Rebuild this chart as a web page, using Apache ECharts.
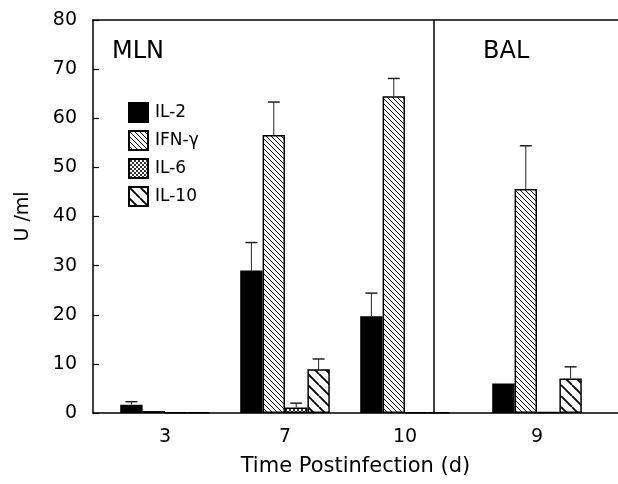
<!DOCTYPE html>
<html>
<head>
<meta charset="utf-8">
<script src="https://cdn.jsdelivr.net/npm/echarts@6/dist/echarts.min.js"></script>
<style>
  html, body { margin: 0; padding: 0; background: #fff; }
  #chart { width: 618px; height: 484px; }
</style>
</head>
<body>
<div id="chart"></div>
<script>
// group positions on the x axis (one unit = distance between MLN groups)
const groupPos = [0.6, 1.6, 2.6, 3.7]
const groupLabels = ['3', '7', '10', '9']
const separatorPos = 3.117

// U/ml: MLN d3, d7, d10, BAL d9
const il2 = [1.7, 29.0, 19.7, 6.0]
const il2Err = [2.3, 34.7, 24.4, 6.0]
const ifn = [0.4, 56.6, 64.5, 45.6]
const ifnErr = [0.4, 63.3, 68.1, 54.4]
const il6 = [0.1, 1.1, 0.1, 0.2]
const il6Err = [0.1, 2.0, 0.1, 0.2]
const il10 = [0.1, 8.9, 0.1, 7.0]
const il10Err = [0.1, 11.0, 0.1, 9.4]

const FONT = 'DejaVu Sans'
const BAR_W = 22.4

// 斜线填充图案
function hatch (size, lineWidth, cross) {
  const c = document.createElement('canvas')
  c.width = size
  c.height = size
  const ctx = c.getContext('2d')
  ctx.fillStyle = '#fff'
  ctx.fillRect(0, 0, size, size)
  ctx.strokeStyle = '#000'
  ctx.lineWidth = lineWidth
  ctx.beginPath()
  for (let o = -size; o <= size; o += size) {
    ctx.moveTo(o, 0)
    ctx.lineTo(o + size, size)
    if (cross) {
      ctx.moveTo(o + size, 0)
      ctx.lineTo(o, size)
    }
  }
  ctx.stroke()
  return { image: c, repeat: 'repeat' }
}

const names = ['IL-2', 'IFN-γ', 'IL-6', 'IL-10']
const values = [il2, ifn, il6, il10]
const errs = [il2Err, ifnErr, il6Err, il10Err]
const fills = ['#000', hatch(5, 1, false), hatch(4, 0.8, true), hatch(11, 1.8, false)]

const barSeries = names.map((name, k) => {
  const s = {
    name: name,
    type: 'bar',
    barWidth: BAR_W,
    barGap: '0%',
    data: values[k].map((v, i) => [groupPos[i], v]),
    itemStyle: { color: fills[k], borderColor: '#000', borderWidth: 1.5 },
    emphasis: { disabled: true }
  }
  if (k === 0) {
    s.markLine = {
      silent: true,
      symbol: 'none',
      label: { show: false },
      lineStyle: { color: '#000', width: 1.5, type: 'solid' },
      data: [{ xAxis: separatorPos }]
    }
  }
  return s
})

// error bars, only where visible
const errData = []
values.forEach((arr, k) => {
  arr.forEach((v, i) => {
    if (errs[k][i] > v) errData.push([groupPos[i], v, errs[k][i], k])
  })
})

const errSeries = {
  type: 'custom',
  z: 5,
  silent: true,
  data: errData,
  renderItem (params, api) {
    const off = (api.value(3) - 1.5) * BAR_W
    const top = api.coord([api.value(0), api.value(2)])
    const base = api.coord([api.value(0), api.value(1)])
    const x = top[0] + off
    return {
      type: 'group',
      children: [
        { type: 'line', shape: { x1: x, y1: base[1], x2: x, y2: top[1] }, style: { stroke: '#222', lineWidth: 1 } },
        { type: 'line', shape: { x1: x - 6, y1: top[1], x2: x + 6, y2: top[1] }, style: { stroke: '#222', lineWidth: 1.5 } }
      ]
    }
  }
}

const chart = echarts.init(document.getElementById('chart'))
chart.setOption({
  animation: false,
  textStyle: { fontFamily: FONT },
  grid: { left: 93, right: 0, top: 20, bottom: 71, containLabel: false, outerBoundsMode: 'none' },
  legend: {
    data: names,
    orient: 'vertical',
    left: 123,
    top: 97,
    icon: 'rect',
    itemWidth: 19,
    itemHeight: 19,
    itemGap: 7,
    selectedMode: false,
    textStyle: { fontFamily: FONT, fontSize: 17, color: '#000', padding: [0, 0, 0, 2] }
  },
  graphic: [
    { type: 'text', left: 112, top: 40, style: { text: 'MLN', font: '24px "DejaVu Sans"', fill: '#000' } },
    { type: 'text', left: 483, top: 40, style: { text: 'BAL', font: '24px "DejaVu Sans"', fill: '#000' } }
  ],
  xAxis: [
    {
      type: 'value',
      min: 0,
      max: 4.375,
      name: 'Time Postinfection (d)',
      nameLocation: 'middle',
      nameGap: 43,
      nameTextStyle: { fontFamily: FONT, fontSize: 21, color: '#000' },
      axisLine: { lineStyle: { color: '#000', width: 1.5 } },
      axisTick: { show: false },
      splitLine: { show: false },
      axisLabel: {
        customValues: groupPos,
        margin: 15,
        fontFamily: FONT,
        fontSize: 19,
        color: '#000',
        formatter: v => {
          const i = groupPos.findIndex(p => Math.abs(p - v) < 1e-6)
          return i >= 0 ? groupLabels[i] : ''
        }
      }
    },
    {
      type: 'value',
      position: 'top',
      min: 0,
      max: 4.375,
      axisLine: { show: true, lineStyle: { color: '#000', width: 1.5 } },
      axisTick: { show: false },
      axisLabel: { show: false },
      splitLine: { show: false }
    }
  ],
  yAxis: {
    type: 'value',
    min: 0,
    max: 80,
    interval: 10,
    name: 'U /ml',
    nameLocation: 'middle',
    nameGap: 60,
    nameTextStyle: { fontFamily: FONT, fontSize: 19, color: '#000' },
    axisLine: { show: true, lineStyle: { color: '#000', width: 1.5 } },
    axisTick: { show: true, inside: true, length: 6, lineStyle: { color: '#000', width: 1.2 } },
    splitLine: { show: false },
    axisLabel: { margin: 16, fontFamily: FONT, fontSize: 19, color: '#000' }
  },
  series: [...barSeries, errSeries]
})
</script>
</body>
</html>
